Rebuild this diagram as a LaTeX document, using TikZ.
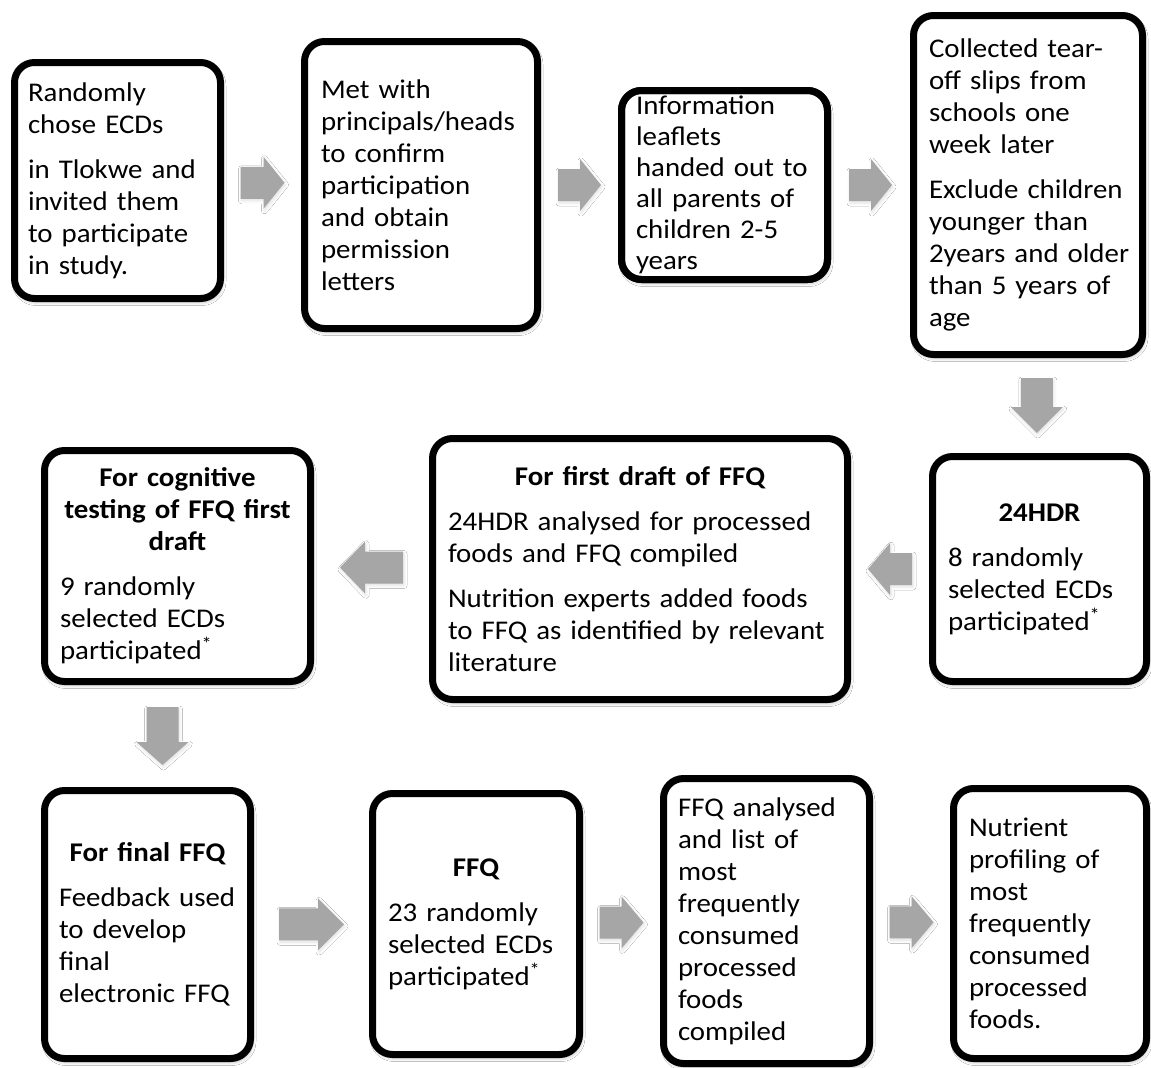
\documentclass[tikz,border=0pt]{standalone}
\usepackage{fontspec}
\setmainfont{Carlito}[FakeStretch=1.07]
\usetikzlibrary{calc,shadows.blur}
\definecolor{arrowgray}{HTML}{A6A6A6}
\tikzset{
  box/.style={draw=black, line width=7pt, rounded corners=20pt, fill=white,
    inner sep=0pt, outer sep=0pt, align=left,
    blur shadow={shadow xshift=1.5pt, shadow yshift=-3pt, shadow blur radius=4pt, shadow opacity=35}},
  arrowcol/.style={fill=arrowgray,
    blur shadow={shadow xshift=1pt, shadow yshift=-2pt, shadow blur radius=3pt, shadow opacity=12}},
  pics/barrow/.style n args={2}{code={
    \fill[arrowcol] ({-#1/2},-16) -- ({#1/2-#2},-16) -- ({#1/2-#2},-26) -- ({#1/2},0)
      -- ({#1/2-#2},26) -- ({#1/2-#2},16) -- ({-#1/2},16) -- cycle;}}
}
\newcommand\Ln[1]{\mbox{#1}}
\begin{document}
\begin{tikzpicture}[x=1pt,y=-1pt,font=\fontsize{27}{32}\selectfont]
\useasboundingbox (0,0) rectangle (1151,1068);
\fill[white] (0,0) rectangle (1151,1068);

% row 1
\node[box, minimum width=206pt, minimum height=236pt, text width=179pt] (b1) at (117.5,180.5)
 {\Ln{Randomly}\\\Ln{chose ECDs}\\[13pt]\Ln{in Tlokwe and}\\\Ln{invited them}\\\Ln{to participate}\\\Ln{in study.}};
\node[box, minimum width=233pt, minimum height=287pt, text width=200pt] (b2) at (421,185)
 {\Ln{Met with}\\\Ln{principals/heads}\\\Ln{to confirm}\\\Ln{participation}\\\Ln{and obtain}\\\Ln{permission}\\\Ln{letters}};
\node[box, minimum width=206pt, minimum height=189pt, text width=177pt, font=\fontsize{27}{31}\selectfont] (b3) at (724.5,185)
 {\Ln{Information}\\\Ln{leaflets}\\\Ln{handed out to}\\\Ln{all parents of}\\\Ln{children 2-5}\\\Ln{years}};
\draw[line width=7pt, rounded corners=20pt] (b3.north west) rectangle (b3.south east);
\node[box, minimum width=229pt, minimum height=339pt, text width=198pt] (b4) at (1028,185)
 {\Ln{Collected tear-}\\\Ln{off slips from}\\\Ln{schools one}\\\Ln{week later}\\[13pt]\Ln{Exclude children}\\\Ln{younger than}\\\Ln{2years and older}\\\Ln{than 5 years of}\\\Ln{age}};

% row 2
\node[box, minimum width=214pt, minimum height=225pt, text width=183pt] (b5) at (1039.5,569)
 {{\centering\bfseries 24HDR\par}\vspace{13pt}\Ln{8 randomly}\\\Ln{selected ECDs}\\\Ln{participated\textsuperscript{*}}};
\node[box, minimum width=415pt, minimum height=261pt, text width=384pt] (b6) at (640,569)
 {{\centering\bfseries For first draft of FFQ\par}\vspace{13pt}\Ln{24HDR analysed for processed}\\\Ln{foods and FFQ compiled}\\[13pt]\Ln{Nutrition experts added foods}\\\Ln{to FFQ as identified by relevant}\\\Ln{literature}};
\node[box, minimum width=266pt, minimum height=231pt, text width=235pt] (b7) at (177.5,566)
 {{\centering\bfseries For cognitive\\testing of FFQ first\\draft\par}\vspace{13pt}\Ln{9 randomly}\\\Ln{selected ECDs}\\\Ln{participated\textsuperscript{*}}};

% row 3
\node[box, minimum width=206pt, minimum height=268pt, text width=177pt] (b8) at (147.5,924.5)
 {{\centering\bfseries For final FFQ\par}\vspace{13pt}\Ln{Feedback used}\\\Ln{to develop}\\\Ln{final}\\\Ln{electronic FFQ}};
\node[box, minimum width=207pt, minimum height=261pt, text width=176pt] (b9) at (476,924)
 {{\centering\bfseries FFQ\par}\vspace{13pt}\Ln{23 randomly}\\\Ln{selected ECDs}\\\Ln{participated\textsuperscript{*}}};
\node[box, minimum width=206pt, minimum height=285pt, text width=177pt] (b10) at (766.5,921)
 {\Ln{FFQ analysed}\\\Ln{and list of}\\\Ln{most}\\\Ln{frequently}\\\Ln{consumed}\\\Ln{processed}\\\Ln{foods}\\\Ln{compiled}};
\node[box, minimum width=193pt, minimum height=270pt, text width=162pt] (b11) at (1050,923.5)
 {\Ln{Nutrient}\\\Ln{profiling of}\\\Ln{most}\\\Ln{frequently}\\\Ln{consumed}\\\Ln{processed}\\\Ln{foods.}};

% connectors (block arrows)
\coordinate (m12) at ($(b1.east)!.5!(b2.west)$);
\coordinate (m23) at ($(b2.east)!.5!(b3.west)$);
\coordinate (m34) at ($(b3.east)!.5!(b4.west)$);
\coordinate (m45) at ($(b4.south)!.5!(b5.north)$);
\coordinate (m56) at ($(b5.west)!.5!(b6.east)$);
\coordinate (m67) at ($(b6.west)!.5!(b7.east)$);
\coordinate (m78) at ($(b7.south)!.5!(b8.north)$);
\coordinate (m89) at ($(b8.east)!.5!(b9.west)$);
\coordinate (m910) at ($(b9.east)!.5!(b10.west)$);
\coordinate (m1011) at ($(b10.east)!.5!(b11.west)$);
\pic at (m12) {barrow={44}{21}};
\pic at (m23) {barrow={43}{21}};
\pic at (m34) {barrow={43}{21}};
\pic[rotate=-90] at ([xshift=3pt]m45) {barrow={55}{26}};
\pic[rotate=180] at (m56) {barrow={44}{22}};
\pic[rotate=180] at (m67) {barrow={63}{25}};
\pic[rotate=-90] at (m78) {barrow={58}{23}};
\pic at (m89) {barrow={65}{26}};
\pic at (m910) {barrow={44}{22}};
\pic at (m1011) {barrow={44}{22}};
\end{tikzpicture}
\end{document}
